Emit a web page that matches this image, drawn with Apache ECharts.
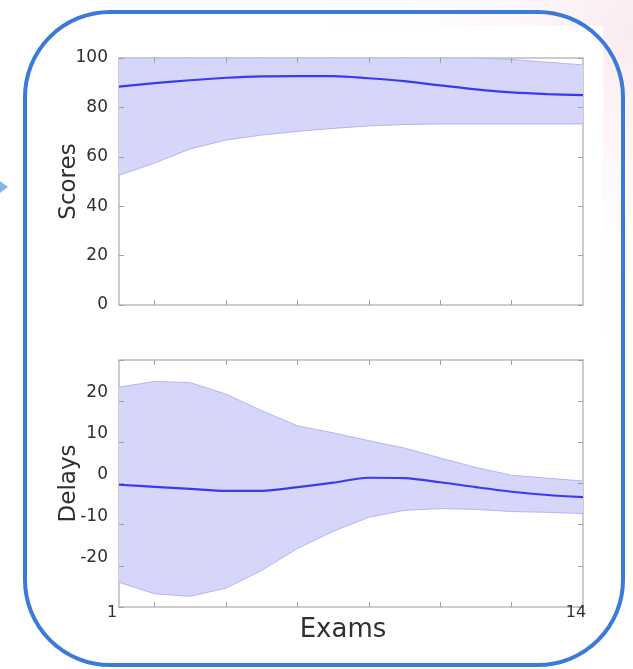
<!DOCTYPE html>
<html>
<head>
<meta charset="utf-8">
<script src="https://cdn.jsdelivr.net/npm/echarts@6/dist/echarts.min.js"></script>
<style>
html,body{margin:0;padding:0;background:#fff;}
#c{width:633px;height:669px;}
</style>
</head>
<body>
<div id="c"></div>
<script>
// ---- data ----
const exams = [1,2,3,4,5,6,7,8,9,10,11,12,13,14];
const scoreMean = [88.4,89.8,91.0,92.0,92.6,92.7,92.7,91.8,90.6,88.9,87.3,86.1,85.4,85.0];
const scoreLow  = [52.5,57.5,63.2,66.8,68.8,70.3,71.5,72.5,73.1,73.3,73.3,73.3,73.3,73.3];
const scoreHigh = [100,100,100,100,100,100,100,100,100,100,100,99.4,98.3,97.2];
const delayMean = [-0.3,-0.8,-1.3,-1.8,-1.8,-0.9,0.2,1.4,1.3,0.3,-0.9,-2.0,-2.8,-3.3];
const delayLow  = [-24.0,-26.8,-27.4,-25.4,-21.1,-15.8,-11.6,-8.2,-6.5,-6.1,-6.3,-6.8,-7.0,-7.3];
const delayHigh = [23.4,24.8,24.5,21.7,17.7,14.0,12.3,10.4,8.6,6.2,3.9,2.0,1.3,0.6];
const scoreTickLabels = [0,20,40,60,80,100];
const delayTickLabels = [-20,-10,0,10,20];
const xTickMarks = [2,4,6,8,10,12];
const xTickLabels = [1,14];
const xTitle = 'Exams';
const scoreTitle = 'Scores';
const delayTitle = 'Delays';

// ---- styles ----
const FONT = 'DejaVu Sans';
const FILL = 'rgb(214,214,251)';
const EDGE = 'rgb(180,180,246)';
const MEAN = 'rgb(58,58,242)';
const BOX = '#bcbcbc';
const TICK = '#a0a0a0';
const TXT = '#303030';

const pairs = (vals) => exams.map((x,i)=>[x, vals[i]]);

function bandSeries(xi, yi, low, high) {
  return {
    type:'custom', xAxisIndex:xi, yAxisIndex:yi, z:1, silent:true,
    data: exams.map((x,i)=>[x, low[i], high[i]]),
    encode:{x:0, y:[1,2]},
    renderItem:function(params, api){
      if (params.dataIndex !== 0) return null;
      const pts = [];
      for (let i=0;i<exams.length;i++) pts.push(api.coord([exams[i], high[i]]));
      for (let i=exams.length-1;i>=0;i--) pts.push(api.coord([exams[i], low[i]]));
      return {type:'polygon', shape:{points:pts}, style:{fill:FILL, stroke:null}};
    }
  };
}
function edgeSeries(xi, yi, vals) {
  return {type:'line', xAxisIndex:xi, yAxisIndex:yi, data:pairs(vals), symbol:'none',
    lineStyle:{color:EDGE, width:1}, z:2, silent:true};
}
function meanSeries(xi, yi, vals) {
  return {type:'line', xAxisIndex:xi, yAxisIndex:yi, data:pairs(vals), symbol:'none', smooth:0.3,
    lineStyle:{color:MEAN, width:2.2}, z:3, silent:true};
}

function xAx(grid, pos, labels) {
  return {
    type:'value', gridIndex:grid, position:pos, min:1, max:14, z:5,
    axisLine:{show:false, onZero:false}, splitLine:{show:false},
    axisTick:{show:true, inside:true, length:5, customValues:xTickMarks, lineStyle:{color:TICK, width:1}},
    axisLabel: labels ? {show:true, customValues:xTickLabels, margin:-2, fontFamily:FONT, fontSize:16, color:TXT, padding:[0,14,0,0]} : {show:false},
    name: labels ? xTitle : '', nameLocation:'middle', nameGap:10, nameMoveOverlap:false,
    nameTextStyle:{fontFamily:FONT, fontSize:26, color:TXT, padding:[0,16,0,0]}
  };
}
function yAx(grid, pos, min, max, interval, labelVals, name, vAlign) {
  return {
    type:'value', gridIndex:grid, position:pos, min:min, max:max, interval:interval, z:5,
    axisLine:{show:false, onZero:false}, splitLine:{show:false},
    axisTick:{show:true, inside:true, length:5, lineStyle:{color:TICK, width:1}},
    axisLabel: labelVals ? {show:true, customValues:labelVals, margin:11, fontFamily:FONT, fontSize:17, color:TXT, verticalAlign:vAlign} : {show:false},
    name: name || '', nameLocation:'middle', nameGap:38, nameRotate:90, nameMoveOverlap:false,
    nameTextStyle:{fontFamily:FONT, fontSize:23, color:TXT}
  };
}

const chart = echarts.init(document.getElementById('c'), null, {renderer:'canvas'});
chart.setOption({
  animation:false,
  backgroundColor:'#ffffff',
  graphic:[
    {type:'rect', z:-10, silent:true, shape:{x:0,y:0,width:633,height:669},
      style:{fill:{type:'radial', x:1, y:0.05, r:0.5, colorStops:[
        {offset:0, color:'rgba(248,218,230,0.55)'},
        {offset:1, color:'rgba(255,255,255,0)'}]}}},
    {type:'rect', z:-9, silent:true, shape:{x:55,y:26,width:548,height:630}, style:{fill:'#ffffff'}},
    {type:'polygon', z:5, silent:true, shape:{points:[[0,181],[8,187],[0,193]]}, style:{fill:'#86b4e8'}},
    {type:'rect', z:50, silent:true, shape:{x:25,y:12,width:598,height:653,r:85},
      style:{fill:'none', stroke:'#3b7ad9', lineWidth:4}}
  ],
  grid:[
    {left:119, right:50, top:58, height:247, show:true, backgroundColor:'transparent', borderColor:BOX, borderWidth:1.5},
    {left:119, right:50, top:360, height:247, show:true, backgroundColor:'transparent', borderColor:BOX, borderWidth:1.5}
  ],
  xAxis:[ xAx(0,'bottom',false), xAx(0,'top',false), xAx(1,'bottom',true), xAx(1,'top',false) ],
  yAxis:[
    yAx(0,'left',0,100,20,scoreTickLabels,scoreTitle,'middle'),
    yAx(0,'right',0,100,20,null,''),
    yAx(1,'left',-30,30,10,delayTickLabels,delayTitle,'bottom'),
    yAx(1,'right',-30,30,10,null,'')
  ],
  series:[
    bandSeries(0,0,scoreLow,scoreHigh),
    edgeSeries(0,0,scoreLow),
    edgeSeries(0,0,scoreHigh),
    meanSeries(0,0,scoreMean),
    bandSeries(2,2,delayLow,delayHigh),
    edgeSeries(2,2,delayLow),
    edgeSeries(2,2,delayHigh),
    meanSeries(2,2,delayMean)
  ]
});
</script>
</body>
</html>
